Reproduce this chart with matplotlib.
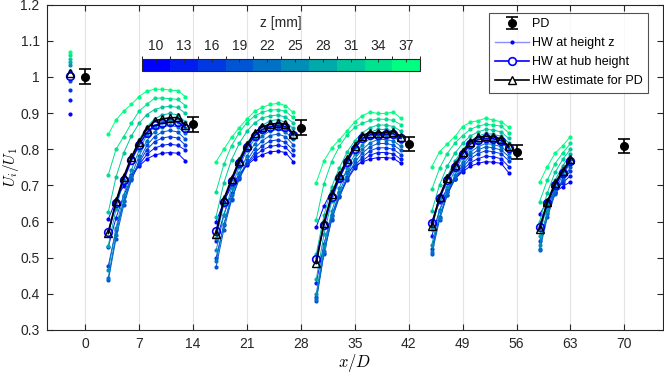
import numpy as np
import matplotlib
matplotlib.use('Agg')
import matplotlib.pyplot as plt
from matplotlib.colors import ListedColormap, BoundaryNorm
from matplotlib.lines import Line2D
import matplotlib.cm as cm

plt.rcParams['font.family'] = ['Liberation Sans', 'DejaVu Sans']
plt.rcParams['mathtext.fontset'] = 'cm'

# ---------------- data ----------------
z_mm = [10, 13, 16, 19, 22, 25, 28, 31, 34, 37]

# inflow profile (upstream)
x_in = [-2]
hw_in = [0.898, 0.936, 0.963, 0.989, 1.016, 1.032, 1.041, 1.051, 1.060, 1.070]
hub_in = [1.003]
est_in = [1.010]

# group 1
g1_x = [3, 4, 5, 6, 7, 8, 9, 10, 11, 12, 13]
g1_hw = [
    [0.607, 0.659, 0.699, 0.730, 0.754, 0.773, 0.784, 0.789, 0.791, 0.789, 0.768],
    [0.530, 0.610, 0.672, 0.720, 0.757, 0.786, 0.803, 0.811, 0.814, 0.811, 0.798],
    [0.477, 0.577, 0.656, 0.717, 0.763, 0.799, 0.821, 0.831, 0.835, 0.831, 0.812],
    [0.437, 0.553, 0.645, 0.715, 0.769, 0.811, 0.835, 0.848, 0.852, 0.848, 0.828],
    [0.445, 0.563, 0.656, 0.727, 0.782, 0.824, 0.849, 0.862, 0.866, 0.862, 0.844],
    [0.466, 0.582, 0.673, 0.743, 0.797, 0.839, 0.863, 0.876, 0.880, 0.876, 0.858],
    [0.533, 0.635, 0.716, 0.778, 0.826, 0.862, 0.884, 0.895, 0.899, 0.895, 0.876],
    [0.626, 0.723, 0.790, 0.837, 0.872, 0.896, 0.910, 0.916, 0.919, 0.916, 0.899],
    [0.729, 0.800, 0.835, 0.872, 0.906, 0.924, 0.941, 0.942, 0.940, 0.938, 0.921],
    [0.841, 0.881, 0.906, 0.924, 0.946, 0.961, 0.966, 0.966, 0.964, 0.962, 0.946],
]
g1_hub = [0.572, 0.650, 0.716, 0.770, 0.812, 0.846, 0.866, 0.872, 0.875, 0.876, 0.860]
g1_est = [0.567, 0.656, 0.724, 0.778, 0.821, 0.856, 0.878, 0.884, 0.887, 0.888, 0.866]

# group 2
g2_x = [17, 18, 19, 20, 21, 22, 23, 24, 25, 26, 27]
g2_hw = [
    [0.600, 0.655, 0.698, 0.731, 0.756, 0.774, 0.785, 0.793, 0.795, 0.791, 0.766],
    [0.545, 0.619, 0.678, 0.723, 0.758, 0.782, 0.798, 0.808, 0.811, 0.806, 0.783],
    [0.500, 0.591, 0.663, 0.718, 0.761, 0.790, 0.810, 0.823, 0.826, 0.819, 0.798],
    [0.475, 0.578, 0.659, 0.721, 0.769, 0.802, 0.824, 0.838, 0.842, 0.835, 0.813],
    [0.490, 0.592, 0.673, 0.735, 0.782, 0.815, 0.837, 0.851, 0.855, 0.848, 0.828],
    [0.520, 0.617, 0.693, 0.752, 0.797, 0.828, 0.849, 0.863, 0.866, 0.859, 0.842],
    [0.555, 0.647, 0.719, 0.774, 0.817, 0.846, 0.866, 0.879, 0.882, 0.875, 0.858],
    [0.614, 0.707, 0.771, 0.816, 0.850, 0.873, 0.887, 0.892, 0.895, 0.889, 0.873],
    [0.683, 0.758, 0.810, 0.846, 0.874, 0.892, 0.903, 0.908, 0.910, 0.905, 0.888],
    [0.766, 0.800, 0.833, 0.860, 0.884, 0.905, 0.916, 0.924, 0.927, 0.921, 0.902],
]
g2_hub = [0.574, 0.655, 0.712, 0.762, 0.805, 0.838, 0.855, 0.862, 0.865, 0.863, 0.840]
g2_est = [0.566, 0.662, 0.718, 0.768, 0.812, 0.846, 0.862, 0.869, 0.872, 0.870, 0.842]

# group 3
g3_x = [30, 31, 32, 33, 34, 35, 36, 37, 38, 39, 40, 41]
g3_hw = [
    [0.585, 0.643, 0.685, 0.714, 0.737, 0.754, 0.765, 0.773, 0.777, 0.777, 0.775, 0.761],
    [0.430, 0.538, 0.618, 0.672, 0.715, 0.748, 0.769, 0.784, 0.791, 0.791, 0.787, 0.772],
    [0.390, 0.514, 0.605, 0.667, 0.717, 0.754, 0.779, 0.796, 0.804, 0.804, 0.800, 0.785],
    [0.380, 0.511, 0.607, 0.672, 0.724, 0.764, 0.790, 0.807, 0.816, 0.816, 0.812, 0.797],
    [0.385, 0.518, 0.615, 0.681, 0.734, 0.774, 0.800, 0.818, 0.827, 0.827, 0.823, 0.808],
    [0.400, 0.532, 0.628, 0.694, 0.747, 0.786, 0.813, 0.830, 0.839, 0.839, 0.835, 0.820],
    [0.440, 0.565, 0.656, 0.718, 0.768, 0.805, 0.830, 0.847, 0.855, 0.855, 0.851, 0.836],
    [0.510, 0.617, 0.696, 0.749, 0.792, 0.824, 0.846, 0.860, 0.867, 0.867, 0.863, 0.850],
    [0.605, 0.705, 0.766, 0.808, 0.839, 0.861, 0.872, 0.880, 0.883, 0.883, 0.880, 0.868],
    [0.708, 0.768, 0.803, 0.827, 0.851, 0.876, 0.893, 0.903, 0.899, 0.899, 0.903, 0.886],
]
g3_hub = [0.497, 0.590, 0.667, 0.721, 0.764, 0.802, 0.830, 0.840, 0.840, 0.841, 0.843, 0.830]
g3_est = [0.484, 0.597, 0.675, 0.729, 0.772, 0.810, 0.838, 0.846, 0.845, 0.846, 0.849, 0.835]

# group 4
g4_x = [45, 46, 47, 48, 49, 50, 51, 52, 53, 54, 55]
g4_hw = [
    [0.600, 0.653, 0.691, 0.718, 0.738, 0.753, 0.761, 0.766, 0.764, 0.761, 0.735],
    [0.560, 0.631, 0.682, 0.717, 0.743, 0.763, 0.774, 0.781, 0.779, 0.774, 0.752],
    [0.525, 0.612, 0.674, 0.717, 0.750, 0.774, 0.788, 0.796, 0.793, 0.788, 0.768],
    [0.510, 0.605, 0.673, 0.721, 0.757, 0.783, 0.798, 0.807, 0.804, 0.798, 0.780],
    [0.515, 0.611, 0.681, 0.729, 0.765, 0.792, 0.807, 0.816, 0.813, 0.807, 0.790],
    [0.535, 0.628, 0.696, 0.742, 0.777, 0.804, 0.818, 0.827, 0.824, 0.818, 0.802],
    [0.580, 0.664, 0.725, 0.767, 0.799, 0.823, 0.836, 0.844, 0.841, 0.836, 0.818],
    [0.628, 0.701, 0.753, 0.789, 0.816, 0.837, 0.848, 0.855, 0.853, 0.848, 0.830],
    [0.689, 0.747, 0.788, 0.817, 0.838, 0.855, 0.864, 0.869, 0.867, 0.864, 0.845],
    [0.752, 0.793, 0.815, 0.835, 0.863, 0.875, 0.879, 0.886, 0.881, 0.876, 0.861],
]
g4_hub = [0.595, 0.664, 0.714, 0.750, 0.786, 0.814, 0.827, 0.830, 0.829, 0.824, 0.804]
g4_est = [0.588, 0.669, 0.720, 0.756, 0.793, 0.821, 0.833, 0.836, 0.834, 0.829, 0.808]

# group 5
g5_x = [59, 60, 61, 62, 63]
g5_hw = [
    [0.620, 0.656, 0.681, 0.697, 0.710],
    [0.585, 0.642, 0.682, 0.707, 0.727],
    [0.545, 0.623, 0.678, 0.713, 0.740],
    [0.520, 0.612, 0.676, 0.718, 0.750],
    [0.525, 0.620, 0.686, 0.729, 0.762],
    [0.535, 0.630, 0.696, 0.739, 0.772],
    [0.560, 0.650, 0.714, 0.754, 0.786],
    [0.600, 0.680, 0.736, 0.772, 0.800],
    [0.655, 0.715, 0.760, 0.790, 0.816],
    [0.709, 0.752, 0.789, 0.810, 0.835],
]
g5_hub = [0.586, 0.650, 0.700, 0.735, 0.768]
g5_est = [0.579, 0.655, 0.706, 0.741, 0.773]

# porous disc measurements
pd_x = [0, 14, 28, 42, 56, 70]
pd_u = [1.001, 0.869, 0.860, 0.814, 0.793, 0.809]
pd_err = [0.02, 0.02, 0.02, 0.02, 0.02, 0.02]

x_ticks = [0, 7, 14, 21, 28, 35, 42, 49, 56, 63, 70]
y_ticks = [0.3, 0.4, 0.5, 0.6, 0.7, 0.8, 0.9, 1.0, 1.1, 1.2]

# ---------------- plot ----------------
fig = plt.figure(figsize=(6.64, 3.73), dpi=100)
ax = fig.add_axes([0.0703, 0.1153, 0.928, 0.8721])

cmap = ListedColormap(plt.get_cmap('winter')(np.linspace(0, 1, len(z_mm))))
colors = [cmap(i) for i in range(len(z_mm))]

groups = [(g1_x, g1_hw, g1_hub, g1_est), (g2_x, g2_hw, g2_hub, g2_est),
          (g3_x, g3_hw, g3_hub, g3_est), (g4_x, g4_hw, g4_hub, g4_est),
          (g5_x, g5_hw, g5_hub, g5_est)]

# inflow
for i, v in enumerate(hw_in):
    ax.plot(x_in, [v], '.', color=colors[i], ms=4, zorder=3)
ax.plot(x_in, hub_in, 'o', color='b', mfc='none', ms=5.5, mew=1.2, zorder=4)
ax.plot(x_in, est_in, '^', color='k', mfc='none', ms=5.5, mew=1.0, zorder=5)

for gx, ghw, ghub, gest in groups:
    for i, row in enumerate(ghw):
        ax.plot(gx, row, '.-', color=colors[i], lw=0.7, ms=4, zorder=3)
    ax.plot(gx, ghub, 'o-', color='b', mfc='none', lw=1.2, ms=5.5, mew=1.2, zorder=4)
    ax.plot(gx, gest, '^-', color='k', mfc='none', lw=1.2, ms=5.5, mew=1.0, zorder=5)

pdc = ax.errorbar(pd_x, pd_u, yerr=pd_err, fmt='o', color='k', ms=5.5, lw=1.2,
                  capsize=4, capthick=1.2, zorder=6)

ax.set_xlim(-5, 75)
ax.set_ylim(0.3, 1.2)
ax.set_xticks(x_ticks)
ax.set_yticks(y_ticks)
ax.set_yticklabels(['%g' % v for v in y_ticks])
ax.grid(axis='x', color='#e3e3e3', lw=0.8)
ax.set_axisbelow(True)
ax.tick_params(direction='in', top=True, right=True, length=4, width=0.8,
               labelsize=10, colors='#262626', pad=5)
for s in ax.spines.values():
    s.set_color('#262626')
    s.set_linewidth(0.8)
ax.set_xlabel(r'$x/D$', fontsize=12, labelpad=1)
ax.set_ylabel(r'$U_i/U_1$', fontsize=11, labelpad=0)
ax.yaxis.set_label_coords(-0.042, 0.5)

# colorbar
cax = ax.inset_axes([0.155, 0.796, 0.451, 0.037])
bounds = np.arange(8.5, 39.0, 3)
norm = BoundaryNorm(bounds, cmap.N)
sm = cm.ScalarMappable(norm=norm, cmap=cmap)
cb = fig.colorbar(sm, cax=cax, orientation='horizontal', ticks=z_mm)
cax.xaxis.set_ticks_position('top')
cax.xaxis.set_label_position('top')
cax.tick_params(direction='in', length=2.5, width=0.6, labelsize=10, colors='#262626', pad=4)
cb.outline.set_edgecolor('#262626')
cb.outline.set_linewidth(0.8)
cb.set_label('z [mm]', fontsize=10, color='#262626', labelpad=9)

# legend
h_hw = Line2D([], [], color='#8c8cff', lw=1.0, marker='.', mfc='b', mec='b', ms=4)
h_hub = Line2D([], [], color='b', lw=1.2, marker='o', mfc='white', ms=5.5, mew=1.2)
h_est = Line2D([], [], color='k', lw=1.2, marker='^', mfc='white', ms=5.5, mew=1.0)
leg = ax.legend([pdc, h_hw, h_hub, h_est],
                ['PD', 'HW at height z', 'HW at hub height', 'HW estimate for PD'],
                loc='upper right', bbox_to_anchor=(0.976, 0.975), fontsize=9,
                frameon=True, fancybox=False, edgecolor='#262626',
                borderpad=0.45, labelspacing=0.55, handlelength=2.7, handletextpad=0.25,
                borderaxespad=0)
leg.get_frame().set_linewidth(0.8)

fig.savefig('out.png', dpi=100)
